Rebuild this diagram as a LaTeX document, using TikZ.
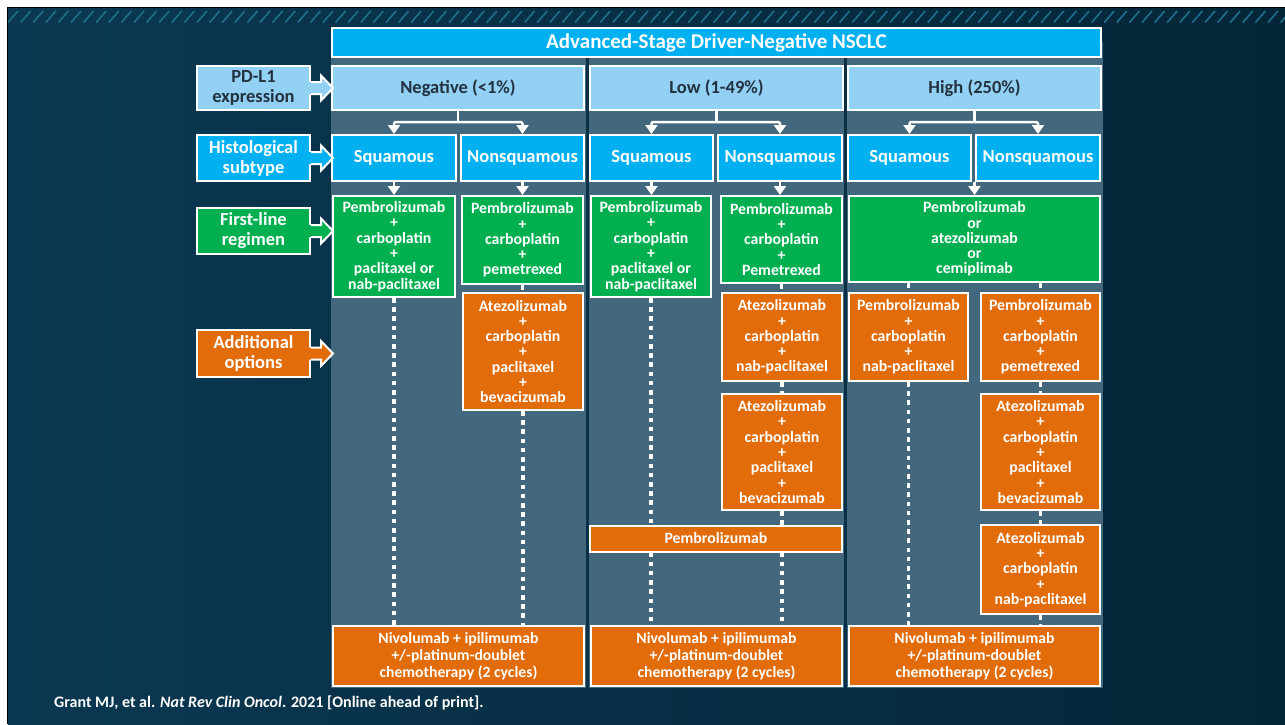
\documentclass[tikz,border=0pt]{standalone}
\usepackage{fontspec}
\setmainfont{Carlito}
\usetikzlibrary{arrows.meta}
\definecolor{cyanbox}{RGB}{0,176,240}
\definecolor{paleblue}{RGB}{146,208,244}
\definecolor{greenbox}{RGB}{0,176,80}
\definecolor{orangebox}{RGB}{227,108,10}
\definecolor{panelgray}{RGB}{67,104,125}
\definecolor{navyL}{RGB}{11,56,82}
\definecolor{navyR}{RGB}{4,38,56}
\definecolor{divnavy}{RGB}{10,48,70}
\definecolor{stripeteal}{RGB}{30,112,140}
\definecolor{darktext}{RGB}{35,50,64}
\pgfdeclarelayer{bg}
\pgfdeclarelayer{mid}
\pgfsetlayers{bg,mid,main}
\setlength{\lineskiplimit}{-20pt}

\begin{document}
\begin{tikzpicture}[x=1pt,y=-1pt,
  box/.style={draw=white, line width=2pt, inner sep=0pt, align=center, text=white},
  sz/.style 2 args={minimum width=#1pt, minimum height=#2pt},
  bigtxt/.style={font=\bfseries\fontsize{18.5}{20}\selectfont},
  titletxt/.style={font=\bfseries\fontsize{21}{23}\selectfont},
  regtxt/.style={font=\bfseries\fontsize{15.8}{15.3}\selectfont},
  nivotxt/.style={font=\bfseries\fontsize{15.7}{17}\selectfont},
  arr/.style={draw=white, line width=2.5pt, -{Triangle[width=12pt,length=9pt]}},
  stem/.style={draw=white, line width=2.5pt},
  dots/.style={draw=white, line width=3.5pt, dash pattern=on 4.5pt off 4.7pt},
  calloutline/.style={draw=white, line width=2pt, line join=miter},
]
\useasboundingbox (0,0) rectangle (1285,724);

% slide background
\begin{pgfonlayer}{bg}
\fill[white] (0,0) rectangle (1285,724);
\fill[black] (6.5,6.5) rectangle (1285,724);
\shade[left color=navyL, right color=navyR] (8,8) rectangle (1285,724);
\begin{scope}
  \clip (8,8) rectangle (1285,30);
  \foreach \i in {0,...,104}
    \draw[stripeteal, line width=1.6pt] ({8+12.6*\i},22.5) -- ++(10,-11.5);
\end{scope}
% grey panel and column dividers
\fill[panelgray] (331,42) rectangle (1103,688);
\draw[divnavy, line width=3pt] (587,58) -- (587,688);
\draw[divnavy, line width=3pt] (845,58) -- (845,688);
\end{pgfonlayer}

% title
\node[box, fill=cyanbox, sz={769}{29}, titletxt] (title) at (716.5,42.5) {Advanced-Stage Driver-Negative NSCLC};

% PD-L1 expression
\node[box, fill=paleblue, text=darktext, sz={252}{44}, bigtxt] (neg) at (458,88) {Negative (<1\%)};
\node[box, fill=paleblue, text=darktext, sz={253}{44}, bigtxt] (low) at (716.5,88) {Low (1-49\%)};
\node[box, fill=paleblue, text=darktext, sz={253}{44}, bigtxt] (high) at (974.5,88) {High (250\%)};

% histological subtype
\node[box, fill=cyanbox, sz={124}{46}, bigtxt] (h1s) at (394,158) {Squamous};
\node[box, fill=cyanbox, sz={123}{46}, bigtxt] (h1n) at (522.5,158) {Nonsquamous};
\node[box, fill=cyanbox, sz={123}{46}, bigtxt] (h2s) at (651.5,158) {Squamous};
\node[box, fill=cyanbox, sz={124}{46}, bigtxt] (h2n) at (780,158) {Nonsquamous};
\node[box, fill=cyanbox, sz={123}{46}, bigtxt] (h3s) at (909.5,158) {Squamous};
\node[box, fill=cyanbox, sz={124}{46}, bigtxt] (h3n) at (1038,158) {Nonsquamous};

% first-line regimens
\node[box, fill=greenbox, sz={122}{101}, regtxt] (g1s) at (394,246.5)
  {Pembrolizumab\\+\\carboplatin\\+\\paclitaxel or\\nab-paclitaxel};
\node[box, fill=greenbox, sz={121}{88}, regtxt] (g1n) at (522.5,240)
  {Pembrolizumab\\+\\carboplatin\\+\\pemetrexed};
\node[box, fill=greenbox, sz={120}{101}, regtxt] (g2s) at (651,246.5)
  {Pembrolizumab\\+\\carboplatin\\+\\paclitaxel or\\nab-paclitaxel};
\node[box, fill=greenbox, sz={121}{87}, regtxt] (g2n) at (781.5,239.5)
  {Pembrolizumab\\+\\carboplatin\\+\\Pemetrexed};
\node[box, fill=greenbox, sz={251}{86}, regtxt] (g3) at (974.5,239)
  {Pembrolizumab\\or\\atezolizumab\\or\\cemiplimab};

% additional options
\node[box, fill=orangebox, sz={120}{117}, regtxt] (o1n) at (523,351.5)
  {Atezolizumab\\+\\carboplatin\\+\\paclitaxel\\+\\bevacizumab};
\node[box, fill=orangebox, sz={120}{88}, regtxt] (o2a) at (782,337)
  {Atezolizumab\\+\\carboplatin\\+\\nab-paclitaxel};
\node[box, fill=orangebox, sz={120}{116}, regtxt] (o2b) at (782,452)
  {Atezolizumab\\+\\carboplatin\\+\\paclitaxel\\+\\bevacizumab};
\node[box, fill=orangebox, sz={252}{26}, regtxt] (o2p) at (716,538.5) {Pembrolizumab};
\node[box, fill=orangebox, sz={119}{88}, regtxt] (o3s) at (908.5,337)
  {Pembrolizumab\\+\\carboplatin\\+\\nab-paclitaxel};
\node[box, fill=orangebox, sz={119}{88}, regtxt] (o3n1) at (1040.5,337)
  {Pembrolizumab\\+\\carboplatin\\+\\pemetrexed};
\node[box, fill=orangebox, sz={119}{116}, regtxt] (o3n2) at (1040.5,452)
  {Atezolizumab\\+\\carboplatin\\+\\paclitaxel\\+\\bevacizumab};
\node[box, fill=orangebox, sz={119}{89}, regtxt] (o3n3) at (1040.5,569.5)
  {Atezolizumab\\+\\carboplatin\\+\\nab-paclitaxel};

% nivolumab + ipilimumab row
\node[box, fill=orangebox, sz={251}{60}, nivotxt] (b1) at (458.5,656)
  {Nivolumab + ipilimumab\\+/-platinum-doublet\\chemotherapy (2 cycles)};
\node[box, fill=orangebox, sz={251}{60}, nivotxt] (b2) at (716.5,656)
  {Nivolumab + ipilimumab\\+/-platinum-doublet\\chemotherapy (2 cycles)};
\node[box, fill=orangebox, sz={251}{60}, nivotxt] (b3) at (974.5,656)
  {Nivolumab + ipilimumab\\+/-platinum-doublet\\chemotherapy (2 cycles)};

% row labels with arrow tabs
\node[box, fill=paleblue, text=darktext, sz={113}{44}, bigtxt] (l1) at (253.5,88) {PD-L1\\expression};
\node[box, fill=cyanbox, sz={113}{46}, bigtxt] (l2) at (253.5,158) {Histological\\subtype};
\node[box, fill=greenbox, sz={113}{46}, bigtxt] (l3) at (253.5,231) {First-line\\regimen};
\node[box, fill=orangebox, sz={113}{47}, bigtxt] (l4) at (253.5,353.5) {Additional\\options};
\foreach \n/\c in {l1/paleblue, l2/cyanbox, l3/greenbox, l4/orangebox}{
  \fill[\c] ([xshift=-2pt,yshift=6pt]\n.east) -- ([xshift=10pt,yshift=6pt]\n.east)
    -- ([xshift=10pt,yshift=12.5pt]\n.east) -- ([xshift=22pt]\n.east)
    -- ([xshift=10pt,yshift=-12.5pt]\n.east) -- ([xshift=10pt,yshift=-6pt]\n.east)
    -- ([xshift=-2pt,yshift=-6pt]\n.east) -- cycle;
  \draw[calloutline] ([yshift=6pt]\n.east) -- ([xshift=10pt,yshift=6pt]\n.east)
    -- ([xshift=10pt,yshift=12.5pt]\n.east) -- ([xshift=22pt]\n.east)
    -- ([xshift=10pt,yshift=-12.5pt]\n.east) -- ([xshift=10pt,yshift=-6pt]\n.east)
    -- ([yshift=-6pt]\n.east);
}

% branching arrows from PD-L1 level to subtypes
\draw[stem] (neg.south) -- ++(0,11) coordinate (t1);
\draw[arr, rounded corners=2pt] (t1) -| (h1s.north);
\draw[arr, rounded corners=2pt] (t1) -| (h1n.north);
\draw[stem] (low.south) -- ++(0,11) coordinate (t2);
\draw[arr, rounded corners=2pt] (t2) -| (h2s.north);
\draw[arr, rounded corners=2pt] (t2) -| (h2n.north);
\draw[stem] (high.south) -- ++(0,11) coordinate (t3);
\draw[arr, rounded corners=2pt] (t3) -| (h3s.north);
\draw[arr, rounded corners=2pt] (t3) -| (h3n.north);

% subtype to first-line
\draw[arr] (h1s.south) -- (g1s.north);
\draw[arr] (h1n.south) -- (g1n.north);
\draw[arr] (h2s.south) -- (g2s.north -| h2s.south);
\draw[arr] (h2n.south) -- (g2n.north -| h2n.south);
\draw[arr] (g3.north |- h3s.south) -- (g3.north);

% dotted continuation lines
\begin{pgfonlayer}{mid}
\draw[dots] (g1s.south) -- (b1.north -| g1s.south);
\draw[dots] (g1n.south) -- (o1n.north -| g1n.south);
\draw[dots] (o1n.south) -- (b1.north -| o1n.south);
\draw[dots] (g2s.south) -- (o2p.north -| g2s.south);
\draw[dots] (o2p.south -| g2s.south) -- (b2.north -| g2s.south);
\draw[dots] (g2n.south) -- (o2a.north -| g2n.south);
\draw[dots] (o2a.south) -- (o2b.north);
\draw[dots] (o2b.south) -- (o2p.north -| o2b.south);
\draw[dots] (o2p.south -| o2b.south) -- (b2.north -| o2b.south);
\draw[dots] (g3.south -| o3s.north) -- (o3s.north);
\draw[dots] (o3s.south) -- (b3.north -| o3s.south);
\draw[dots] (g3.south -| o3n1.north) -- (o3n1.north);
\draw[dots] (o3n1.south) -- (o3n2.north);
\draw[dots] (o3n2.south) -- (o3n3.north);
\draw[dots] (o3n3.south) -- (b3.north -| o3n3.south);
\end{pgfonlayer}

% reference line
\node[anchor=west, inner sep=0pt, text=white, font=\bfseries\fontsize{16}{18}\selectfont] (cite) at (54,703)
  {Grant MJ, et al. \textit{Nat Rev Clin Oncol}. 2021 [Online ahead of print].};
\end{tikzpicture}
\end{document}
